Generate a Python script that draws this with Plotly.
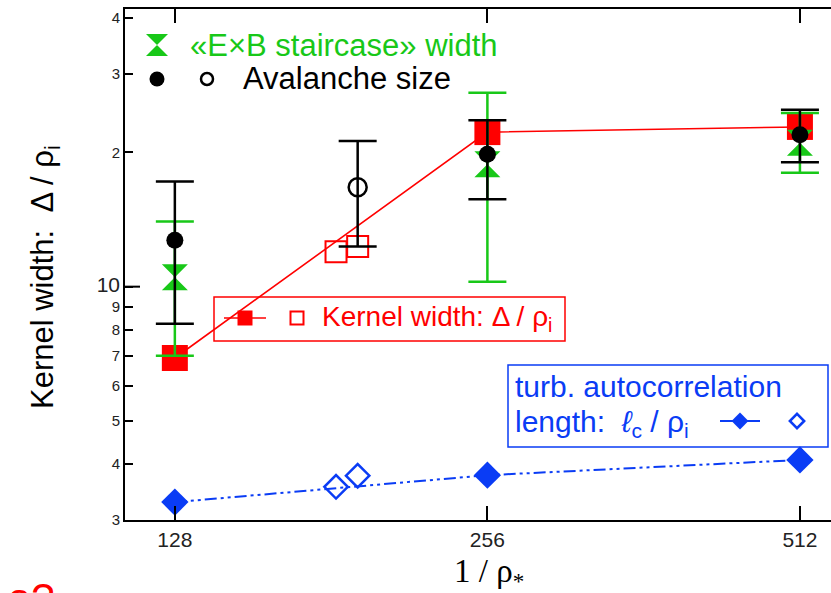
import plotly.graph_objects as go

# ---------------- data ----------------
x_main = [128, 256, 512]

kernel_filled = [6.92, 22.2, 22.8]
kernel_open_x = [183, 192]
kernel_open = [11.97, 12.3]

exb_val = [10.5, 18.8, 21.0]
exb_hi = [14.0, 27.2, 24.5]
exb_lo = [7.0, 10.25, 18.0]

aval_val = [12.7, 19.8, 21.9]
aval_hi = [17.2, 23.6, 24.9]
aval_lo = [8.26, 15.7, 19.0]
aval_open_x = [192]
aval_open = [16.7]
aval_open_hi = [21.2]
aval_open_lo = [12.3]

lc_filled = [3.29, 3.78, 4.09]
lc_open_x = [183, 192]
lc_open = [3.56, 3.77]

xtick_vals = [128, 256, 512]
xtick_text = ["128", "256", "512"]
ytick_vals = [3, 4, 5, 6, 7, 8, 9, 10, 20, 30, 40]
ytick_text = ["3", "4", "5", "6", "7", "8", "9",
              "<span style='font-size:21px'>10</span>", "2", "3", "4"]

RED = "#ff0000"
GREEN = "#18c818"
BLUE = "#0a3cf5"
BLACK = "#000000"

# plot-area pixel geometry (for placing decorations)
L, R, T, B = 125, 831, 9, 520
W, H = 831, 593


def fx(px):
    return (px - L) / (R - L)


def fy(py):
    return (B - py) / (B - T)


fig = go.Figure()

# red kernel width
fig.add_trace(go.Scatter(x=x_main, y=kernel_filled, mode="lines+markers",
                         line=dict(color=RED, width=1.6),
                         marker=dict(symbol="square", size=26, color=RED)))
fig.add_trace(go.Scatter(x=kernel_open_x, y=kernel_open, mode="markers",
                         marker=dict(symbol="square-open", size=21, color=RED,
                                     line=dict(width=2, color=RED))))

# green ExB staircase
fig.add_trace(go.Scatter(x=x_main, y=exb_val, mode="markers",
                         marker=dict(symbol="hourglass", size=26, color=GREEN),
                         error_y=dict(type="data", symmetric=False,
                                      array=[h - v for h, v in zip(exb_hi, exb_val)],
                                      arrayminus=[v - l for l, v in zip(exb_lo, exb_val)],
                                      color=GREEN, thickness=2.5, width=19)))

# black avalanche
fig.add_trace(go.Scatter(x=x_main, y=aval_val, mode="markers",
                         marker=dict(symbol="circle", size=17, color=BLACK),
                         error_y=dict(type="data", symmetric=False,
                                      array=[h - v for h, v in zip(aval_hi, aval_val)],
                                      arrayminus=[v - l for l, v in zip(aval_lo, aval_val)],
                                      color=BLACK, thickness=2.5, width=19)))
fig.add_trace(go.Scatter(x=aval_open_x, y=aval_open, mode="markers",
                         marker=dict(symbol="circle-open", size=18, color=BLACK,
                                     line=dict(width=2.5, color=BLACK)),
                         error_y=dict(type="data", symmetric=False,
                                      array=[h - v for h, v in zip(aval_open_hi, aval_open)],
                                      arrayminus=[v - l for l, v in zip(aval_open_lo, aval_open)],
                                      color=BLACK, thickness=2.5, width=19)))

# blue autocorrelation length
fig.add_trace(go.Scatter(x=x_main, y=lc_filled, mode="lines+markers",
                         line=dict(color=BLUE, width=2, dash="12px,4px,3px,4px,3px,4px"),
                         marker=dict(symbol="diamond", size=21, color=BLUE)))
fig.add_trace(go.Scatter(x=lc_open_x, y=lc_open, mode="markers",
                         marker=dict(symbol="diamond-open", size=18, color=BLUE,
                                     line=dict(width=2.5, color=BLUE))))

# ---------- legend symbols on an overlay (0..1) axis ----------
leg = dict(xaxis="x2", yaxis="y2", hoverinfo="skip")
fig.add_trace(go.Scatter(x=[fx(157)], y=[fy(45)], mode="markers",
                         marker=dict(symbol="hourglass", size=22, color=GREEN), **leg))
fig.add_trace(go.Scatter(x=[fx(157)], y=[fy(79)], mode="markers",
                         marker=dict(symbol="circle", size=15, color=BLACK), **leg))
fig.add_trace(go.Scatter(x=[fx(207)], y=[fy(79)], mode="markers",
                         marker=dict(symbol="circle-open", size=12, color=BLACK,
                                     line=dict(width=2.5, color=BLACK)), **leg))
fig.add_trace(go.Scatter(x=[fx(224), fx(266)], y=[fy(318), fy(318)], mode="lines",
                         line=dict(color=RED, width=1.6), **leg))
fig.add_trace(go.Scatter(x=[fx(245)], y=[fy(318)], mode="markers",
                         marker=dict(symbol="square", size=15, color=RED), **leg))
fig.add_trace(go.Scatter(x=[fx(297)], y=[fy(318)], mode="markers",
                         marker=dict(symbol="square-open", size=13, color=RED,
                                     line=dict(width=2, color=RED)), **leg))
fig.add_trace(go.Scatter(x=[fx(720), fx(760)], y=[fy(421), fy(421)], mode="lines",
                         line=dict(color=BLUE, width=2), **leg))
fig.add_trace(go.Scatter(x=[fx(740)], y=[fy(421)], mode="markers",
                         marker=dict(symbol="diamond", size=13, color=BLUE), **leg))
fig.add_trace(go.Scatter(x=[fx(797)], y=[fy(421)], mode="markers",
                         marker=dict(symbol="diamond-open", size=11, color=BLUE,
                                     line=dict(width=2.5, color=BLUE)), **leg))

SANS = "Liberation Sans, Arial, sans-serif"
SERIF = "Liberation Serif, Times New Roman, serif"

annotations = [
    dict(x=fx(188), y=fy(45), text="«E×B staircase» width", font=dict(size=31, color=GREEN, family=SANS)),
    dict(x=fx(241), y=fy(78), text="Avalanche size", font=dict(size=31, color=BLACK, family=SANS)),
    dict(x=fx(320), y=fy(318), text="Kernel width: Δ / ρ<sub>i</sub>", font=dict(size=28, color=RED, family=SANS)),
    dict(x=fx(513), y=fy(386), text="turb. autocorrelation", font=dict(size=30, color=BLUE, family=SANS)),
    dict(x=fx(513), y=fy(423), text="length:  <i>ℓ</i><sub>c</sub> / ρ<sub>i</sub>", font=dict(size=30, color=BLUE, family=SANS)),
]
for a in annotations:
    a.update(xref="paper", yref="paper", xanchor="left", yanchor="middle", showarrow=False)

annotations += [
    dict(x=fx(45), y=fy(277), xref="paper", yref="paper", text="Kernel width:  Δ / ρ<sub>i</sub>",
         textangle=-90, showarrow=False, font=dict(size=31, color=BLACK, family=SANS),
         xanchor="center", yanchor="middle"),
    dict(x=fx(489), y=fy(573), xref="paper", yref="paper", text="1 / ρ<sub>*</sub>",
         showarrow=False, font=dict(size=33, color=BLACK, family=SERIF),
         xanchor="center", yanchor="middle"),
    dict(x=fx(6), y=fy(598), xref="paper", yref="paper", text="a?",
         showarrow=False, font=dict(size=42, color=RED, family=SANS),
         xanchor="left", yanchor="middle"),
]

shapes = [
    dict(type="rect", xref="paper", yref="paper", x0=fx(214), x1=fx(565), y0=fy(297), y1=fy(341),
         line=dict(color=RED, width=1.5)),
    dict(type="rect", xref="paper", yref="paper", x0=fx(508), x1=fx(828), y0=fy(365), y1=fy(447),
         line=dict(color=BLUE, width=1.5)),
    dict(type="line", xref="paper", yref="y", x0=0, x1=fx(140), y0=10, y1=10,
         line=dict(color=BLACK, width=2)),
]

fig.update_layout(
    width=W, height=H,
    margin=dict(l=L, r=W - R, t=T, b=H - B),
    paper_bgcolor="white", plot_bgcolor="white",
    showlegend=False,
    annotations=annotations,
    shapes=shapes,
    xaxis=dict(type="log", range=[2.0592, 2.7392], tickvals=xtick_vals, ticktext=xtick_text,
               ticks="inside", ticklen=14, tickwidth=2, tickcolor=BLACK,
               showline=True, linewidth=2, linecolor=BLACK, mirror="ticks",
               showgrid=False, zeroline=False,
               tickfont=dict(size=21, color="#222", family=SANS)),
    yaxis=dict(type="log", range=[0.4771, 1.6222], tickvals=ytick_vals, ticktext=ytick_text,
               ticks="inside", ticklen=8, tickwidth=2, tickcolor=BLACK,
               showline=True, linewidth=2, linecolor=BLACK, mirror=False,
               showgrid=False, zeroline=False,
               tickfont=dict(size=15, color="#222", family=SANS)),
    xaxis2=dict(overlaying="x", range=[0, 1], visible=False, fixedrange=True),
    yaxis2=dict(overlaying="y", range=[0, 1], visible=False, fixedrange=True),
)

fig.write_html("out.html")
